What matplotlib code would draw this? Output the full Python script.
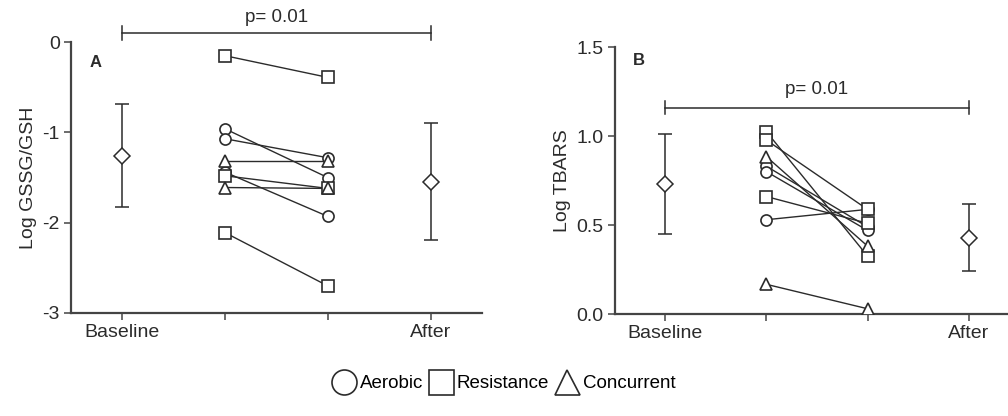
import matplotlib
matplotlib.use('Agg')
import matplotlib.pyplot as plt
from matplotlib.lines import Line2D

plt.rcParams['font.family'] = ['Liberation Sans', 'DejaVu Sans']

# x categories
x_labels = ['Baseline', '', '', 'After']

# panel A: Log GSSG/GSH
a_mean = [-1.26, -1.55]
a_upper = [-0.69, -0.89]
a_lower = [-1.83, -2.19]
a_aerobic_pre = [-0.96, -1.07, -1.44]
a_aerobic_post = [-1.50, -1.28, -1.93]
a_resist_pre = [-0.15, -1.48, -2.11]
a_resist_post = [-0.39, -1.62, -2.70]
a_concur_pre = [-1.32, -1.61]
a_concur_post = [-1.32, -1.62]

# panel B: Log TBARS
b_mean = [0.733, 0.43]
b_upper = [1.01, 0.62]
b_lower = [0.45, 0.24]
b_aerobic_pre = [0.53, 0.83, 0.80]
b_aerobic_post = [0.588, 0.49, 0.47]
b_resist_pre = [1.024, 0.977, 0.66]
b_resist_post = [0.326, 0.588, 0.51]
b_concur_pre = [0.884, 0.167]
b_concur_post = [0.382, 0.03]

INK = '#2b2b2b'


def draw_panel(ax, mean, upper, lower, groups, ylim, yticks, yticklabels, ylabel,
               letter, letter_y, bar_y, text_y):
    ax.set_xlim(-0.5, 3.5)
    ax.set_ylim(*ylim)
    # mean +- error at baseline / after
    for xi, m, u, l in zip([0, 3], mean, upper, lower):
        ax.errorbar([xi], [m], yerr=[[m - l], [u - m]], fmt='D', ms=8,
                    mfc='white', mec=INK, mew=1.1, ecolor=INK, elinewidth=1.1,
                    capsize=5, capthick=1.1, zorder=3)
    # paired individual lines
    for pre, post, marker, ms in groups:
        for p0, p1 in zip(pre, post):
            ax.plot([1, 2], [p0, p1], color=INK, lw=1.0, zorder=2)
        ax.plot([1] * len(pre), pre, linestyle='none', marker=marker, ms=ms,
                mfc='white', mec=INK, mew=1.2, zorder=4)
        ax.plot([2] * len(post), post, linestyle='none', marker=marker, ms=ms,
                mfc='white', mec=INK, mew=1.2, zorder=4)
    # significance bar
    ax.plot([0, 3], [bar_y, bar_y], color=INK, lw=1.1, clip_on=False)
    h = (ylim[1] - ylim[0]) * 0.025
    for xi in [0, 3]:
        ax.plot([xi, xi], [bar_y - h, bar_y + h], color=INK, lw=1.1, clip_on=False)
    ax.text(1.5, text_y, 'p= 0.01', ha='center', va='center', fontsize=13.5,
            color=INK, clip_on=False)
    ax.text(0.045, letter_y, letter, transform=ax.transAxes, fontsize=12,
            fontweight='bold', color=INK, ha='left', va='center')

    ax.set_xticks([0, 1, 2, 3])
    ax.set_xticklabels(x_labels, fontsize=14, color=INK)
    ax.set_yticks(yticks)
    ax.set_yticklabels(yticklabels, fontsize=14, color=INK)
    ax.set_ylabel(ylabel, fontsize=14, color=INK, labelpad=4)
    for s in ['top', 'right']:
        ax.spines[s].set_visible(False)
    for s in ['left', 'bottom']:
        ax.spines[s].set_color('#444444')
        ax.spines[s].set_linewidth(1.6)
    ax.tick_params(axis='both', direction='out', length=5, width=1.1,
                   color='#444444', pad=3)


fig = plt.figure(figsize=(10.08, 4.16), dpi=100)
ax_a = fig.add_axes([0.0704, 0.2476, 0.4077, 0.651])
ax_b = fig.add_axes([0.610, 0.245, 0.401, 0.642])

draw_panel(ax_a, a_mean, a_upper, a_lower,
           [(a_aerobic_pre, a_aerobic_post, 'o', 8),
            (a_resist_pre, a_resist_post, 's', 8),
            (a_concur_pre, a_concur_post, '^', 8)],
           (-3, 0), [-3, -2, -1, 0], ['-3', '-2', '-1', '0'], 'Log GSSG/GSH',
           'A', 0.926, 0.10, 0.27)
draw_panel(ax_b, b_mean, b_upper, b_lower,
           [(b_aerobic_pre, b_aerobic_post, 'o', 8),
            (b_resist_pre, b_resist_post, 's', 8),
            (b_concur_pre, b_concur_post, '^', 8)],
           (0, 1.5), [0, 0.5, 1.0, 1.5], ['0.0', '0.5', '1.0', '1.5'], 'Log TBARS',
           'B', 0.95, 1.16, 1.26)

handles = [Line2D([], [], linestyle='none', marker=m, ms=18, mfc='white',
                  mec=INK, mew=1.2) for m in ['o', 's', '^']]
fig.legend(handles, ['Aerobic', 'Resistance', 'Concurrent'], loc='center',
           bbox_to_anchor=(0.5, 0.078), ncol=3, frameon=False, fontsize=13.5,
           handletextpad=0.25, columnspacing=0.35, handlelength=1.2)

fig.savefig('out.png', dpi=100)
